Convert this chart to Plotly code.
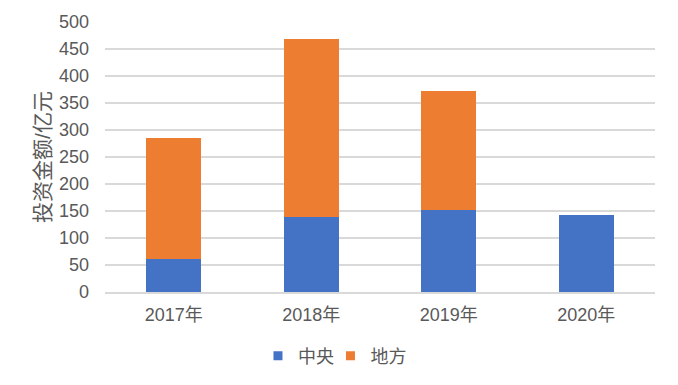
import plotly.graph_objects as go

years = ["2017年", "2018年", "2019年", "2020年"]
central = [61, 138, 152, 142]
local = [224, 330, 220, None]
series_names = ["中央", "地方"]
colors = ["#4472C4", "#ED7D31"]
y_ticks = [0, 50, 100, 150, 200, 250, 300, 350, 400, 450, 500]

font_family = "Liberation Sans, Noto Sans CJK SC, sans-serif"
grey = "#595959"

fig = go.Figure()
fig.add_trace(go.Bar(x=years, y=central, name=series_names[0], marker_color=colors[0],
                     marker_line_width=0, showlegend=False))
fig.add_trace(go.Bar(x=years, y=local, name=series_names[1], marker_color=colors[1],
                     marker_line_width=0, showlegend=False))
# legend entries with small square markers, one legend each
legend_ids = ["legend", "legend2"]
for name, c, lg in zip(series_names, colors, legend_ids):
    fig.add_trace(go.Scatter(x=[None], y=[None], mode="markers", name=name, legend=lg,
                             marker=dict(symbol="square", size=9, color=c)))

legend_common = dict(orientation="h", xref="container", yref="container",
                     xanchor="left", y=0.077, yanchor="middle",
                     font=dict(size=18, color=grey), itemwidth=30, itemclick=False,
                     bgcolor="rgba(0,0,0,0)")

fig.update_layout(
    width=670, height=377,
    barmode="stack", bargap=0.6,
    paper_bgcolor="white", plot_bgcolor="white",
    margin=dict(l=97, r=23, t=14, b=93, autoexpand=False),
    font=dict(family=font_family, size=18, color=grey),
    showlegend=True,
    legend=dict(x=0.3731, **legend_common),
    legend2=dict(x=0.4813, **legend_common),
    xaxis=dict(showgrid=False, showline=True, linecolor="#D9D9D9", linewidth=1.5,
               automargin=False,
               ticks="", tickfont=dict(size=18, color=grey), ticklabelstandoff=6),
    yaxis=dict(range=[0, 500], tickvals=y_ticks, showgrid=True, gridcolor="#D9D9D9", gridwidth=1.5,
               automargin=False,
               zeroline=False, ticks="", tickfont=dict(size=18, color=grey), ticklabelstandoff=15,
               title=dict(text="投资金额/亿元", font=dict(size=21, color=grey), standoff=2)),
)

fig.write_html("out.html")
